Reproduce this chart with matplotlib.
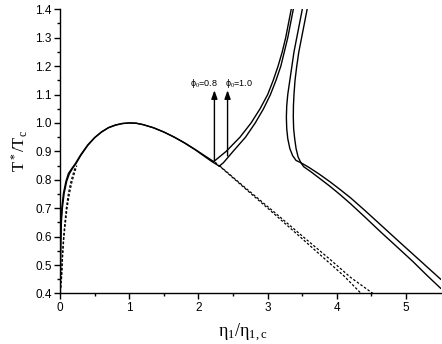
import numpy as np
import matplotlib
matplotlib.use("Agg")
import matplotlib.pyplot as plt

plt.rcParams['font.family'] = ['Liberation Sans', 'DejaVu Sans']
plt.rcParams['mathtext.fontset'] = 'custom'
plt.rcParams['mathtext.rm'] = 'Liberation Serif'
plt.rcParams['mathtext.it'] = 'Liberation Serif'

# coexistence dome (solid), phi0 = 0.8 and phi0 = 1.0
dome_08_x = [0.0, 0.003, 0.006, 0.012, 0.025, 0.048, 0.085, 0.12, 0.17, 0.22, 0.3, 0.4,
             0.5, 0.6, 0.7, 0.8, 0.9, 1.0, 1.1, 1.2, 1.35, 1.5, 1.65, 1.8, 1.95, 2.1, 2.22]
dome_08_y = [0.4, 0.5, 0.58, 0.65, 0.70, 0.752, 0.795, 0.822, 0.84, 0.857, 0.889, 0.923,
             0.949, 0.969, 0.984, 0.993, 0.998, 1.0, 0.999, 0.994, 0.983, 0.968, 0.950, 0.930, 0.907, 0.883, 0.864]
dome_10_x = [0.004, 0.007, 0.011, 0.018, 0.032, 0.058, 0.095, 0.135, 0.18, 0.23, 0.3, 0.4,
             0.5, 0.6, 0.7, 0.8, 0.9, 1.0, 1.1, 1.2, 1.35, 1.5, 1.65, 1.8, 1.95, 2.1, 2.2, 2.30]
dome_10_y = [0.4, 0.5, 0.58, 0.65, 0.70, 0.752, 0.795, 0.822, 0.84, 0.857, 0.886, 0.921,
             0.948, 0.968, 0.983, 0.992, 0.998, 1.0, 0.999, 0.994, 0.983, 0.968, 0.950, 0.929, 0.906, 0.880, 0.863, 0.848]

# metastable continuation (dashed)
dash_left_08_x = [0.012, 0.03, 0.045, 0.063, 0.09, 0.12, 0.155, 0.19, 0.22]
dash_left_08_y = [0.42, 0.52, 0.58, 0.634, 0.70, 0.752, 0.792, 0.822, 0.845]
dash_left_10_x = [0.02, 0.038, 0.055, 0.075, 0.1, 0.135, 0.17, 0.205, 0.24]
dash_left_10_y = [0.45, 0.54, 0.60, 0.645, 0.70, 0.752, 0.792, 0.822, 0.85]
dash_right_08_x = [2.24, 2.6, 3.0, 3.4, 3.8, 4.1, 4.35]
dash_right_08_y = [0.862, 0.785, 0.700, 0.614, 0.527, 0.462, 0.4]
dash_right_10_x = [2.31, 2.7, 3.1, 3.5, 3.9, 4.2, 4.52]
dash_right_10_y = [0.848, 0.767, 0.685, 0.602, 0.520, 0.456, 0.4]

# branches rising from the dome
rise_08_x = [2.22, 2.40, 2.60, 2.76, 2.89, 3.00, 3.08, 3.15, 3.21, 3.26, 3.30, 3.34]
rise_08_y = [0.864, 0.90, 0.95, 1.00, 1.05, 1.10, 1.15, 1.20, 1.25, 1.30, 1.35, 1.40]
rise_10_x = [2.30, 2.36, 2.50, 2.68, 2.82, 2.94, 3.04, 3.12, 3.19, 3.24, 3.29, 3.33, 3.37]
rise_10_y = [0.848, 0.86, 0.90, 0.95, 1.00, 1.05, 1.10, 1.15, 1.20, 1.25, 1.30, 1.35, 1.40]

# right branch
right_08_x = [3.50, 3.46, 3.42, 3.38, 3.35, 3.32, 3.29, 3.275, 3.27, 3.275, 3.29, 3.32, 3.36, 3.41, 3.48,
              3.6, 3.75, 3.9, 4.05, 4.2, 4.4, 4.63, 4.85, 5.1, 5.3, 5.5]
right_08_y = [1.40, 1.35, 1.30, 1.25, 1.20, 1.15, 1.10, 1.06, 1.02, 0.98, 0.945, 0.91, 0.885, 0.868, 0.860,
              0.843, 0.819, 0.793, 0.765, 0.736, 0.693, 0.642, 0.593, 0.538, 0.494, 0.450]
right_10_x = [3.57, 3.53, 3.49, 3.45, 3.42, 3.395, 3.38, 3.372, 3.37, 3.375, 3.39, 3.41, 3.44, 3.48, 3.52,
              3.62, 3.75, 3.9, 4.05, 4.2, 4.4, 4.63, 4.85, 5.1, 5.3, 5.5]
right_10_y = [1.40, 1.35, 1.30, 1.25, 1.20, 1.15, 1.10, 1.06, 1.02, 0.98, 0.945, 0.91, 0.88, 0.86, 0.846,
              0.829, 0.805, 0.777, 0.747, 0.715, 0.670, 0.617, 0.568, 0.512, 0.464, 0.418]

arrow_x = [2.23, 2.42]
arrow_y0 = [0.866, 0.884]
arrow_y1 = 1.115
arrow_labels = [r'ϕ$_0$=0.8', r'ϕ$_0$=1.0']

fig = plt.figure(figsize=(4.42, 3.44), dpi=100)
ax = fig.add_axes([0.136, 0.147, 0.861, 0.826])

lw = 1.0
for xs, ys in [(dome_08_x, dome_08_y), (dome_10_x, dome_10_y),
               (rise_08_x, rise_08_y), (rise_10_x, rise_10_y),
               (right_08_x, right_08_y), (right_10_x, right_10_y)]:
    ax.plot(xs, ys, color='black', lw=lw, solid_joinstyle='round')
for xs, ys in [(dash_left_08_x, dash_left_08_y), (dash_left_10_x, dash_left_10_y),
               (dash_right_08_x, dash_right_08_y), (dash_right_10_x, dash_right_10_y)]:
    ax.plot(xs, ys, color='black', lw=0.9, linestyle=(0, (2.0, 1.5)))

for x, y0 in zip(arrow_x, arrow_y0):
    ax.annotate('', xy=(x, arrow_y1), xytext=(x, y0),
                arrowprops=dict(arrowstyle='-|>,head_length=0.5,head_width=0.18',
                                color='black', lw=1.0, shrinkA=0, shrinkB=0))
ax.text(arrow_x[0] + 0.05, 1.14, arrow_labels[0], fontsize=6.5, ha='right', va='center')
ax.text(arrow_x[1] - 0.03, 1.14, arrow_labels[1], fontsize=6.5, ha='left', va='center')

ax.set_xlim(0, 5.5)
ax.set_ylim(0.4, 1.4)
ax.set_xticks([0, 1, 2, 3, 4, 5])
ax.set_xticks(np.arange(0.5, 5.5, 1.0), minor=True)
ax.set_yticks(np.round(np.arange(0.4, 1.41, 0.1), 1))
ax.set_yticks(np.arange(0.45, 1.4, 0.1), minor=True)
ax.set_yticklabels([f'{v:.1f}' for v in np.arange(0.4, 1.41, 0.1)])
ax.tick_params(which='major', direction='out', length=4, width=1.0, labelsize=8.5, pad=2)
ax.tick_params(which='minor', direction='out', length=2.5, width=1.0)
ax.spines['top'].set_visible(False)
ax.spines['right'].set_visible(False)
ax.spines['left'].set_linewidth(1.0)
ax.spines['bottom'].set_linewidth(1.0)

ax.set_xlabel(r'$\mathrm{\eta_1/\eta_{1,c}}$', fontsize=13, labelpad=4)
ax.xaxis.set_label_coords(0.48, -0.1)
ax.set_ylabel(r'$\mathrm{T^*/T_c}$', fontsize=12, labelpad=4)

fig.savefig('out.png', dpi=100)
